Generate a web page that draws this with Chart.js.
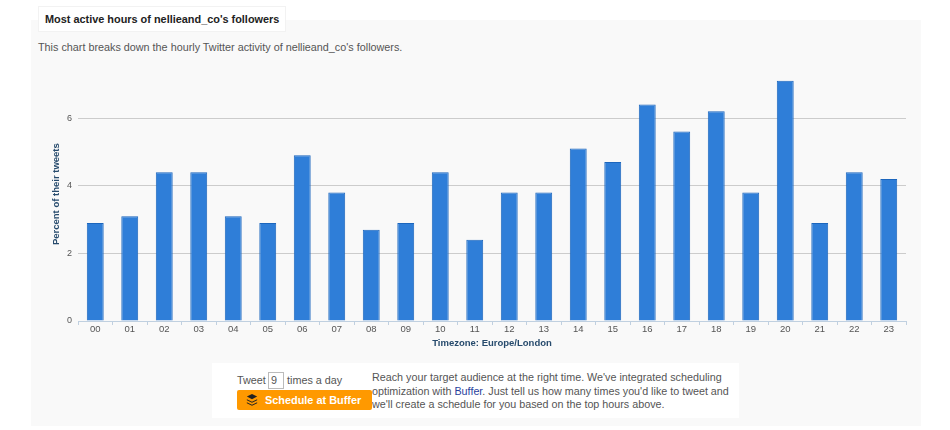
<!DOCTYPE html>
<html><head><meta charset="utf-8">
<script src="https://cdn.jsdelivr.net/npm/chart.js@4"></script>
<style>
html,body{margin:0;padding:0;background:#fff;width:950px;height:430px;overflow:hidden;font-family:"Liberation Sans",Arial,sans-serif}
.a{position:absolute;white-space:nowrap}
#panel{left:31px;top:20px;width:890px;height:406px;background:#f9f9f9}
#tab{left:38px;top:6px;width:248px;height:26px;background:#fff;border:1px solid #f2f2f2;box-sizing:border-box}
#title{left:45px;top:13px;font-size:10.9px;font-weight:bold;color:#222;line-height:13px}
#sub{left:38px;top:40px;font-size:10.8px;color:#555;line-height:14px}
#box{left:212px;top:363px;width:527px;height:55px;background:#fff}
#tw{left:237px;top:373px;font-size:10.8px;color:#555;line-height:14px}
#tw2{left:287px;top:373px;font-size:10.8px;color:#555;line-height:14px}
#inp{left:268px;top:372px;width:16px;height:17px;border:1px solid #bbb;box-sizing:border-box;font-size:10.8px;color:#555;line-height:15px;padding-left:2px}
#btn{left:237px;top:390px;width:135px;height:20px;background:#f90;border-radius:2px}
#btnt{left:265px;top:394px;font-size:10.9px;font-weight:bold;color:#fff;line-height:13px}
#ic{left:246px;top:394px}
#desc{left:372px;top:371px;font-size:10.75px;color:#555;line-height:13.6px}
#desc b{font-weight:normal;color:#2a3f9d}
canvas{position:absolute;left:0;top:0}
</style></head><body>
<div class="a" id="panel"></div>
<div class="a" id="tab"></div>
<div class="a" id="title">Most active hours of nellieand_co's followers</div>
<div class="a" id="sub">This chart breaks down the hourly Twitter activity of nellieand_co's followers.</div>
<canvas id="c" width="950" height="430"></canvas>
<div class="a" id="box"></div>
<div class="a" id="tw">Tweet</div>
<div class="a" id="inp">9</div>
<div class="a" id="tw2">times a day</div>
<div class="a" id="btn"></div>
<svg class="a" id="ic" width="12" height="12" viewBox="0 0 14 14"><path d="M7 0L13 3L7 6L1 3Z M1 6L7 9L13 6L13 7.2L7 10.2L1 7.2Z M1 9.6L7 12.6L13 9.6L13 10.8L7 13.8L1 10.8Z" fill="#222"/></svg>
<div class="a" id="btnt">Schedule at Buffer</div>
<div class="a" id="desc">Reach your target audience at the right time. We've integrated scheduling<br>optimization with <b>Buffer</b>. Just tell us how many times you'd like to tweet and<br>we'll create a schedule for you based on the top hours above.</div>
<script>
const hours=["00","01","02","03","04","05","06","07","08","09","10","11","12","13","14","15","16","17","18","19","20","21","22","23"];
const percent=[2.9,3.1,4.4,4.4,3.1,2.9,4.9,3.8,2.7,2.9,4.4,2.4,3.8,3.8,5.1,4.7,6.4,5.6,6.2,3.8,7.1,2.9,4.4,4.2];
const yTicks=[0,2,4,6];
const font='"Liberation Sans",Arial,sans-serif';
new Chart(document.getElementById('c'),{
 type:'bar',
 data:{labels:hours,datasets:[{data:percent,backgroundColor:'#2f7ed8',borderColor:'#1c66bd',borderWidth:1,barPercentage:1,categoryPercentage:0.49,borderSkipped:'bottom'}]},
 options:{responsive:false,animation:false,
  layout:{padding:{left:0,right:44,top:67.3,bottom:0}},
  plugins:{legend:{display:false},tooltip:{enabled:false}},
  scales:{
   x:{offset:true,
    grid:{display:true,drawOnChartArea:false,drawTicks:true,tickLength:4,color:'#c0d0e0',offset:true},
    border:{color:'#c0d0e0',width:1},
    ticks:{color:'#555',font:{size:9.5,family:font},maxRotation:0,autoSkip:false,padding:-1},
    title:{display:true,text:'Timezone: Europe/London',color:'#274b6d',font:{size:9.5,weight:'bold',family:font},padding:{top:3,bottom:81}},
    afterFit(s){s.height=109}},
   y:{min:0,max:7.5,
    afterBuildTicks(s){s.ticks=yTicks.map(v=>({value:v}))},
    grid:{color:'#cccccc',lineWidth:1,drawTicks:false},
    border:{display:false},
    ticks:{color:'#555',font:{size:9,family:font},padding:6,callback:v=>v},
    title:{display:true,text:'Percent of their tweets',color:'#274b6d',font:{size:9.5,weight:'bold',family:font},padding:{top:51,bottom:0}},
    afterFit(s){s.width=78}}
  }
 }
});
</script>
</body></html>
